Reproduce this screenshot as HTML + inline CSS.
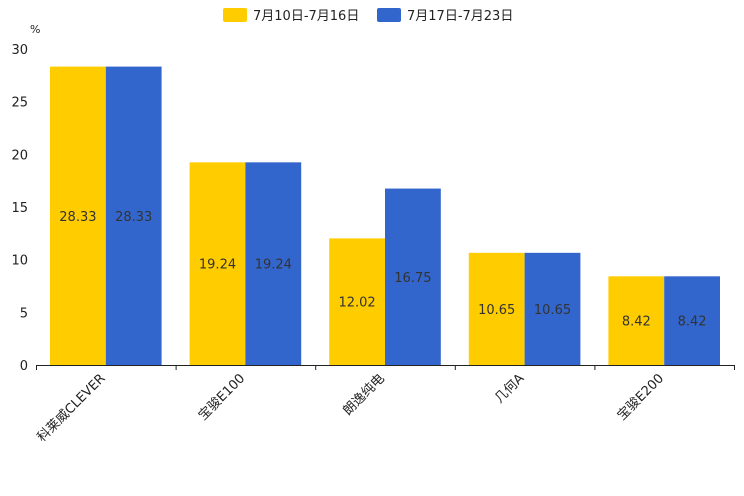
<!DOCTYPE html>
<html><head><meta charset="utf-8"><style>
body{margin:0;background:#fff;}
svg{display:block;font-family:"DejaVu Sans","Noto Sans CJK SC",sans-serif;}
</style></head><body>
<svg id="c" width="744" height="496">
<g>
<rect x="223" y="8" width="24" height="14" rx="2" fill="#ffcc00"/>
<text x="253" y="20" font-size="13" fill="#222">7月10日-7月16日</text>
<rect x="377" y="8" width="24" height="14" rx="2" fill="#3366cc"/>
<text x="407" y="20" font-size="13" fill="#222">7月17日-7月23日</text>
</g>
<text x="30" y="33" font-size="11" fill="#222">%</text>
<g id="axes"></g><g id="bars"></g>
</svg>
<script>
const categories=["科莱威CLEVER","宝骏E100","朗逸纯电","几何A","宝骏E200"];
const series1=[28.33,19.24,12.02,10.65,8.42];
const series2=[28.33,19.24,16.75,10.65,8.42];
const yTicks=[0,5,10,15,20,25,30];
const NS="http://www.w3.org/2000/svg";
const x0=36,x1=734,y0=365,y1=49,yMax=30;
const band=(x1-x0)/categories.length;
const y=v=>y0-(v/yMax)*(y0-y1);
const xb=i=>x0+i*band;
const pad=14,bw=(band-2*pad)/2;
const axes=document.getElementById('axes'),bars=document.getElementById('bars');
function mk(t,a,p){const e=document.createElementNS(NS,t);for(const k in a)e.setAttribute(k,a[k]);p.appendChild(e);return e;}
yTicks.forEach(v=>{
 const t=mk('text',{x:28,y:y(v)+5,'text-anchor':'end','font-size':13,fill:'#222'},axes);
 
 
 t.textContent=v;
});
const ax=mk('line',{x1:x0,x2:x1,y1:y0+0.5,y2:y0+0.5,stroke:'#222'},axes);


for(let i=0;i<=categories.length;i++){
 const tk=mk('line',{x1:xb(i)+0.5,x2:xb(i)+0.5,y1:y0,y2:y0+5,stroke:'#222'},axes);
 
 
}
categories.forEach((c,i)=>{
 const cx=xb(i)+band/2;
 const t=mk('text',{x:cx,y:y0+14,'text-anchor':'end','font-size':13,fill:'#222',transform:`rotate(-45 ${cx} ${y0+14})`},axes);
 
 
 t.textContent=c;
 [[series1,'#ffcc00',0],[series2,'#3366cc',1]].forEach(([s,col,k])=>{
  const bx=xb(i)+pad+k*bw;
  const r=mk('rect',{x:bx,y:y(s[i]),width:bw,height:y0-y(s[i]),fill:col},bars);
  
  
  const l=mk('text',{x:bx+bw/2,y:(y(s[i])+y0)/2+5,'text-anchor':'middle','font-size':13,fill:'#333'},bars);
  
  
  l.textContent=s[i].toFixed(2);
 });
});
</script>
</body></html>
